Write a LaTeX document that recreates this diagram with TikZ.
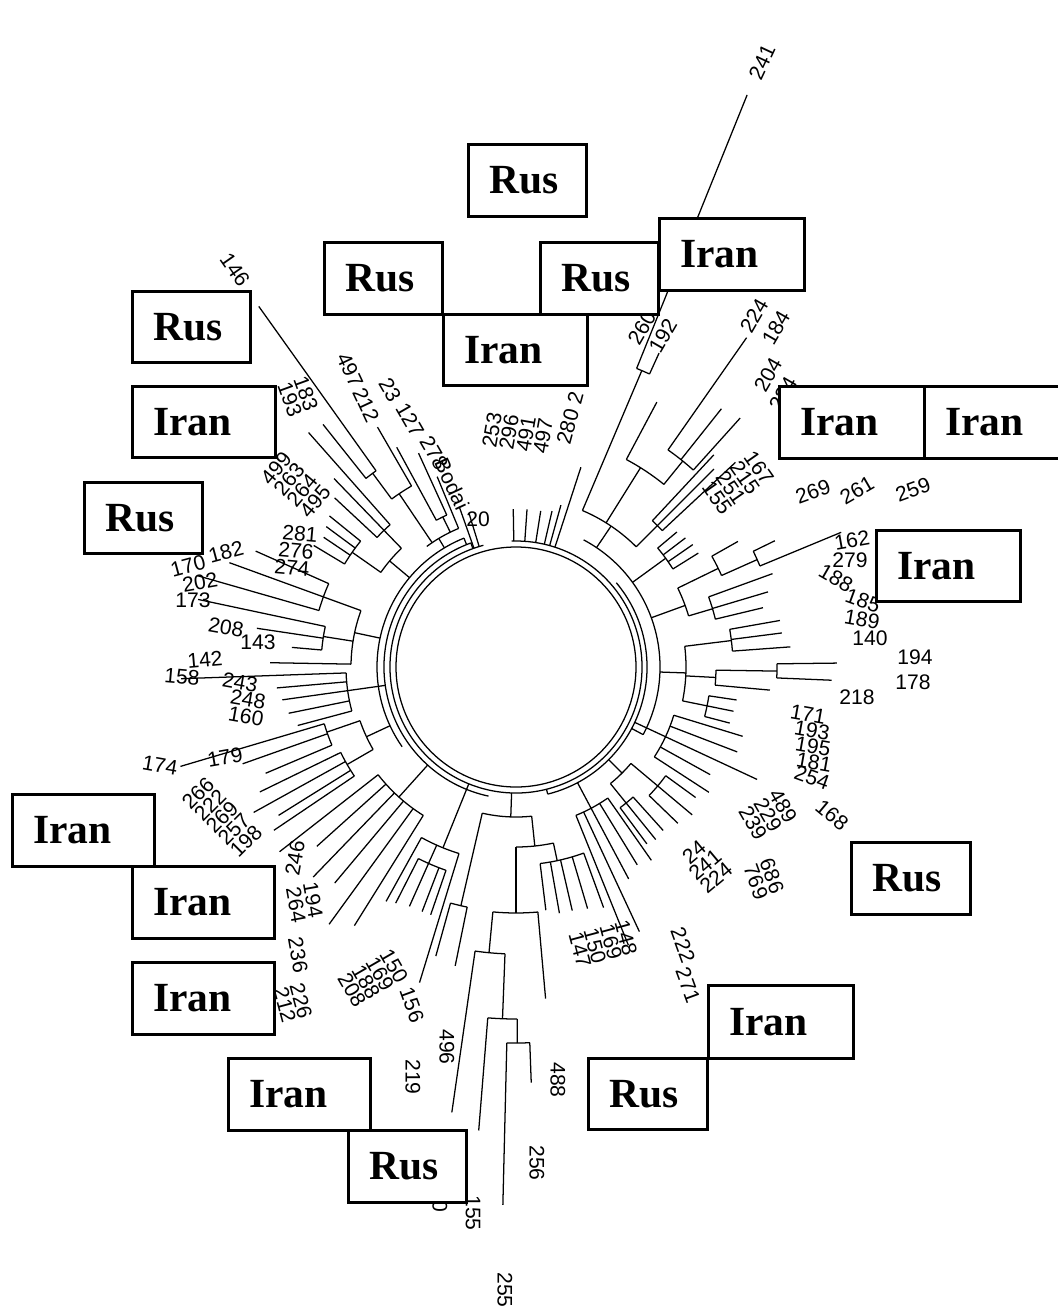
\documentclass[tikz,border=0pt]{standalone}
\usepackage{fontspec}
\setmainfont{Liberation Serif}
\newfontfamily\numfont{Liberation Sans}
\usetikzlibrary{calc}

% tree drawing helpers (angle in degrees, radius in px)
\newcommand{\brstem}[3]{\draw[branch] (#1:#2) -- (#1:#3);}
\newcommand{\brarc}[3]{\draw[branch] (#2:#1) arc[start angle=#2,end angle=#3,radius=#1];}
\newcommand{\brfan}[4]{\brarc{#1}{#2}{#3}\foreach \ang/\tip in {#4}{\brstem{\ang}{#1}{\tip}}}
\newcommand{\leaflabel}[5]{\node[lbl,rotate=#4] (#1) at (#2,#3) {#5};}
\newcommand{\countrybox}[6]{%
  \pgfmathsetlengthmacro\bw{(#4-42)*0.025cm}%
  \pgfmathsetlengthmacro\bh{#5*0.025cm}%
  \node[box,minimum height=\bh,text width=\bw] (#1) at (#2,#3) {#6};}

\begin{document}
\begin{tikzpicture}[x=0.025cm,y=-0.025cm,
    branch/.style={line width=0.9pt},
    lbl/.style={font=\numfont\fontsize{15}{15}\selectfont,inner sep=0pt},
    box/.style={draw,line width=2pt,fill=white,anchor=north west,
      inner xsep=0.525cm,inner ysep=0pt,align=left,
      font=\fontsize{29.5}{30}\selectfont\bfseries}]
  \useasboundingbox[fill=white] (0,0) rectangle (1058,1308);

  \begin{scope}[shift={(516,667)},yscale=-1]
    % rings
    \draw[branch] (0,0) circle[radius=120];
    \brarc{126}{105}{452}
    \brstem{110}{126}{132} \brarc{132}{110}{258}
    \brstem{112}{132}{139} \brarc{139}{112}{215}
    \brstem{-76}{126}{131} \brarc{131}{-76}{40}
    \brstem{-28}{131}{144} \brarc{144}{-28}{62}
    % top comb
    \foreach \ang/\tip in {91/158,86/158,81/158,77/160,74.5/168,72/210}{\brstem{\ang}{126}{\tip}}
    \brstem{107}{126}{160} \brstem{109.5}{126}{170}
    % upper left
    \brstem{121}{139}{150} \brarc{150}{112.5}{126.5}
    \brstem{112.5}{150}{206}
    \brstem{116}{150}{167} \brfan{167}{114.5}{118.5}{114.5/235,118.5/250}
    \brstem{124}{150}{209} \brarc{209}{120}{126.5}
    \brstem{120}{209}{277} \brstem{126.5}{209}{241}
    \brfan{241}{125.5}{128.5}{125.5/443,128.5/310}
    \brstem{140}{139}{165} \brarc{165}{134}{145}
    \brstem{134}{165}{190} \brfan{190}{131.5}{137}{131.5/313,134/262,137/248}
    \brstem{145}{165}{200} \brfan{200}{141}{149}{141/240,143.5/236,146/232,149/236}
    % left
    \brstem{168}{139}{165} \brarc{165}{160}{179}
    \brstem{160}{165}{205} \brfan{205}{156}{164}{156/285,160/305,164/332}
    \brstem{171}{165}{195} \brfan{195}{168}{175}{168/325,171.5/262,175/225}
    \brstem{179}{165}{246}
    \brstem{188}{132}{170} \brfan{170}{182}{195}{182/335,185/240,188/236,191.5/232,195/226}
    \brstem{205}{139}{165} \brarc{165}{199}{210}
    \brstem{199}{165}{200} \brfan{200}{196.5}{203}{196.5/350,199.5/290,203/272}
    \brstem{210}{165}{195} \brfan{195}{206}{214}{206/285,209/300,212/280,214/292}
    % lower left
    \brstem{228}{132}{175} \brfan{175}{218}{238}{218/300,222/268,226/292,230/282,234/318,238/305}
    \brstem{248}{126}{195} \brarc{195}{241}{253}
    \brstem{241}{195}{268} \brstem{253}{195}{330}
    \brstem{246}{195}{215} \brfan{215}{243}{251}{243/265,246/262,249/262,251/262}
    % bottom
    \brstem{268}{126}{150} \brarc{150}{257}{276}
    \brstem{257}{150}{245} \brfan{245}{254.5}{258.5}{254.5/300,258.5/305}
    \brstem{276}{150}{180} \brarc{180}{270}{282}
    \brstem{270}{180}{246} \brarc{246}{264.6}{275.1}
    \brstem{264.6}{246}{287} \brarc{287}{261.8}{267.8}
    \brstem{261.8}{287}{450} \brstem{267.8}{287}{352}
    \brarc{352}{265.4}{270.2}
    \brstem{265.4}{352}{465} \brstem{270.2}{352}{376}
    \brfan{376}{268.6}{272.1}{268.6/538,272.1/416}
    \brstem{275.1}{246}{333}
    \brstem{282}{180}{198} \brfan{198}{277}{290}{277/245,280/250,283/250,286.5/252,290/256}
    % lower right
    \brstem{298}{131}{160} \brfan{160}{292}{305}{292/300,295/292,298/240,301.5/232,305/236}
    \brstem{315}{131}{150} \brarc{150}{309}{320}
    \brstem{309}{150}{175} \brfan{175}{306.5}{312}{306.5/220,309/222,312/220}
    \brstem{320}{150}{185} \brfan{185}{316}{324}{316/225,320/230,324/222}
    \brstem{335}{131}{165} \brfan{165}{327}{343}{327/230,331/222,335/266,339/237,343/237}
    % right
    \brstem{-2}{144}{170} \brarc{170}{-11.5}{7}
    \brstem{7}{170}{217} \brfan{217}{4.2}{10}{10/268,7.3/268,4.2/275}
    \brstem{-3}{170}{200} \brarc{200}{-5.2}{-0.9}
    \brstem{-5.2}{200}{255} \brstem{-0.9}{200}{261}
    \brfan{261}{-2.4}{0.7}{0.7/321,-2.4/316}
    \brstem{-11.5}{170}{195} \brfan{195}{-14.7}{-8.5}{-8.5/223,-11.5/222,-14.7/221}
    \brstem{20}{144}{180} \brarc{180}{16.5}{26}
    \brstem{26}{180}{225} \brarc{225}{24}{29.5}
    \brstem{29.5}{225}{255} \brstem{24}{225}{264}
    \brfan{264}{22.5}{26}{26/288,22.5/352}
    \brstem{16.5}{180}{205} \brfan{205}{13.5}{20}{20/273,16.6/263,13.5/254}
    \brstem{36}{144}{185} \brfan{185}{32}{40}{32/215,34.7/215,37.3/213,40/210}
    % upper right
    \brstem{56}{144}{170} \brarc{170}{45}{67}
    \brstem{67}{170}{322} \brfan{322}{65.5}{68}{68/617,65.5/345}
    \brstem{58}{170}{235} \brarc{235}{51}{62}
    \brstem{62}{235}{300} \brstem{51}{235}{265}
    \brfan{265}{48}{55}{55/402,51.5/330,48/335}
    \brstem{45}{170}{200} \brfan{200}{43}{47}{47/290,45/280,43/300}
  \end{scope}

  % leaf labels
  \leaflabel{l241}{762}{62}{65}{241}
  \leaflabel{l260}{642}{328}{60}{260}
  \leaflabel{l192}{663}{336}{60}{192}
  \leaflabel{l224}{754}{316}{60}{224}
  \leaflabel{l184}{776}{328}{60}{184}
  \leaflabel{l204}{768}{375}{60}{204}
  \leaflabel{l234}{783}{394}{60}{234}
  \leaflabel{l155}{717}{498}{-55}{155}
  \leaflabel{l251}{731}{488}{-55}{251}
  \leaflabel{l215}{745}{478}{-55}{215}
  \leaflabel{l167}{759}{468}{-55}{167}
  \leaflabel{l269}{813}{492}{20}{269}
  \leaflabel{l261}{857}{490}{30}{261}
  \leaflabel{l259}{913}{490}{20}{259}
  \leaflabel{l162}{852}{540}{10}{162}
  \leaflabel{l279}{850}{560}{0}{279}
  \leaflabel{l188}{836}{578}{-30}{188}
  \leaflabel{l185}{863}{601}{-20}{185}
  \leaflabel{l189}{862}{619}{-10}{189}
  \leaflabel{l140}{870}{638}{0}{140}
  \leaflabel{l194}{915}{657}{0}{194}
  \leaflabel{l178}{913}{682}{0}{178}
  \leaflabel{l218}{857}{697}{0}{218}
  \leaflabel{l171}{808}{714}{-10}{171}
  \leaflabel{l193}{812}{730}{-10}{193}
  \leaflabel{l195}{813}{746}{-10}{195}
  \leaflabel{l181}{814}{762}{-10}{181}
  \leaflabel{l254}{812}{778}{-20}{254}
  \leaflabel{l168}{832}{815}{-40}{168}
  \leaflabel{l489}{783}{806}{-60}{489}
  \leaflabel{l229}{768}{815}{-60}{229}
  \leaflabel{l239}{753}{823}{-60}{239}
  \leaflabel{l769}{756}{882}{-70}{769}
  \leaflabel{l686}{772}{876}{-70}{686}
  \leaflabel{l224b}{716}{878}{40}{224}
  \leaflabel{l241b}{705}{865}{40}{241}
  \leaflabel{l24}{694}{852}{40}{24}
  \leaflabel{l222}{683}{945}{-70}{222}
  \leaflabel{l271}{688}{985}{-70}{271}
  \leaflabel{l147}{580}{950}{-75}{147}
  \leaflabel{l150}{595}{946}{-75}{150}
  \leaflabel{l169}{611}{942}{-75}{169}
  \leaflabel{l148}{626}{938}{-75}{148}
  \leaflabel{l488}{558}{1080}{-90}{488}
  \leaflabel{l256}{537}{1163}{-90}{256}
  \leaflabel{l155b}{473}{1213}{-90}{155}
  \leaflabel{l255}{505}{1290}{-90}{255}
  \leaflabel{l0}{440}{1206}{-90}{0}
  \leaflabel{l496}{447}{1047}{-90}{496}
  \leaflabel{l219}{413}{1077}{-90}{219}
  \leaflabel{l156}{412}{1005}{-70}{156}
  \leaflabel{l150b}{394}{966}{-60}{150}
  \leaflabel{l169b}{380}{974}{-60}{169}
  \leaflabel{l188b}{366}{982}{-60}{188}
  \leaflabel{l208b}{352}{990}{-60}{208}
  \leaflabel{l212}{285}{1005}{-75}{212}
  \leaflabel{l226}{301}{1001}{-75}{226}
  \leaflabel{l236}{298}{955}{-80}{236}
  \leaflabel{l264}{296}{905}{-80}{264}
  \leaflabel{l194b}{313}{900}{-80}{194}
  \leaflabel{l246}{295}{858}{80}{246}
  \leaflabel{l266}{198}{793}{45}{266}
  \leaflabel{l222b}{210}{805}{45}{222}
  \leaflabel{l269b}{222}{817}{45}{269}
  \leaflabel{l257}{234}{829}{45}{257}
  \leaflabel{l198}{246}{841}{45}{198}
  \leaflabel{l174}{160}{765}{-10}{174}
  \leaflabel{l179}{225}{757}{10}{179}
  \leaflabel{l182}{226}{552}{15}{182}
  \leaflabel{l170}{188}{566}{15}{170}
  \leaflabel{l202}{200}{582}{10}{202}
  \leaflabel{l173}{193}{600}{0}{173}
  \leaflabel{l208}{226}{627}{-10}{208}
  \leaflabel{l143}{258}{642}{0}{143}
  \leaflabel{l142}{205}{660}{5}{142}
  \leaflabel{l158}{182}{677}{-5}{158}
  \leaflabel{l243}{240}{682}{-10}{243}
  \leaflabel{l248}{248}{699}{-10}{248}
  \leaflabel{l160}{246}{716}{-10}{160}
  \leaflabel{l281}{300}{534}{-5}{281}
  \leaflabel{l276}{296}{551}{-5}{276}
  \leaflabel{l274}{292}{568}{-5}{274}
  \leaflabel{l146}{235}{270}{-55}{146}
  \leaflabel{l183}{306}{394}{-70}{183}
  \leaflabel{l193b}{290}{400}{-70}{193}
  \leaflabel{l497}{350}{370}{-65}{497}
  \leaflabel{l212b}{366}{405}{-65}{212}
  \leaflabel{l23}{390}{390}{-60}{23}
  \leaflabel{l127}{410}{420}{-60}{127}
  \leaflabel{l278}{434}{453}{-60}{278}
  \leaflabel{lbodai}{452}{484}{-65}{Bodai}
  \leaflabel{l495}{315}{501}{50}{495}
  \leaflabel{l264b}{302}{490}{50}{264}
  \leaflabel{l263}{289}{479}{50}{263}
  \leaflabel{l499}{276}{468}{50}{499}
  \leaflabel{l20}{478}{519}{0}{20}
  \leaflabel{l253}{492}{430}{80}{253}
  \leaflabel{l296}{509}{432}{80}{296}
  \leaflabel{l491}{526}{434}{80}{491}
  \leaflabel{l497b}{543}{436}{80}{497}
  \leaflabel{l280}{570}{418}{75}{280 2}

  % country boxes
  \countrybox{b1}{467}{143}{118}{72}{Rus}
  \countrybox{b2}{323}{241}{118}{72}{Rus}
  \countrybox{b3}{539}{241}{118}{72}{Rus}
  \countrybox{b4}{658}{217}{145}{72}{Iran}
  \countrybox{b5}{442}{313}{144}{71}{Iran}
  \countrybox{b6}{131}{290}{118}{71}{Rus}
  \countrybox{b7}{131}{385}{143}{71}{Iran}
  \countrybox{b8}{778}{385}{145}{72}{Iran}
  \countrybox{b9}{923}{385}{145}{72}{Iran}
  \countrybox{b10}{83}{481}{118}{71}{Rus}
  \countrybox{b11}{875}{529}{144}{71}{Iran}
  \countrybox{b12}{11}{793}{142}{72}{Iran}
  \countrybox{b13}{131}{865}{142}{72}{Iran}
  \countrybox{b14}{850}{841}{119}{72}{Rus}
  \countrybox{b15}{131}{961}{142}{72}{Iran}
  \countrybox{b16}{707}{984}{145}{73}{Iran}
  \countrybox{b17}{587}{1057}{119}{71}{Rus}
  \countrybox{b18}{227}{1057}{142}{72}{Iran}
  \countrybox{b19}{347}{1129}{118}{72}{Rus}
\end{tikzpicture}
\end{document}
